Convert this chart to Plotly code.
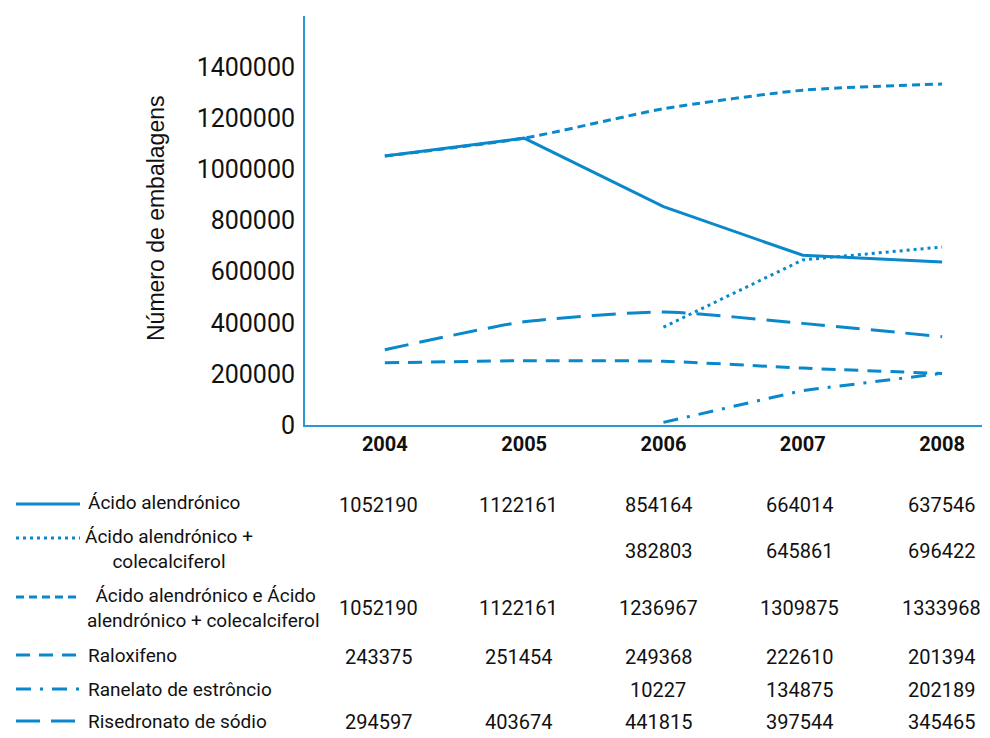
import plotly.graph_objects as go

years = [2004, 2005, 2006, 2007, 2008]
series_names = [
    "Ácido alendrónico",
    "Ácido alendrónico +<br>colecalciferol",
    " Ácido alendrónico e Ácido<br>alendrónico + colecalciferol",
    "Raloxifeno",
    "Ranelato de estrôncio",
    "Risedronato de sódio",
]
acido = [1052190, 1122161, 854164, 664014, 637546]
acido_cole = [None, None, 382803, 645861, 696422]
acido_total = [1052190, 1122161, 1236967, 1309875, 1333968]
raloxifeno = [243375, 251454, 249368, 222610, 201394]
ranelato = [None, None, 10227, 134875, 202189]
risedronato = [294597, 403674, 441815, 397544, 345465]
series_values = [acido, acido_cole, acido_total, raloxifeno, ranelato, risedronato]
y_ticks = [0, 200000, 400000, 600000, 800000, 1000000, 1200000, 1400000]

BLUE = "#0a88cc"
AXIS = "#2a98d4"
FONT = "Roboto"
dashes = ["solid", "3px,4px", "8px,5px", "14px,9px", "15px,9px,3px,9px", "24px,11px"]
shapes_line = ["linear", "linear", "spline", "spline", "linear", "spline"]
col_shift = [-6, -6, -5, -3, -1]

OFF = 8  # page body margin
W, H = 990 - OFF, 738 - OFF
L, R, T, B = 305 - OFF, 0, 16 - OFF, 738 - 425
pw, ph = W - L - R, H - T - B


def px(x, y):
    """page pixel -> paper coords"""
    x -= OFF
    y -= OFF
    return (x - L) / pw, (H - B - y) / ph


fig = go.Figure()
for name, vals, d, sh in zip(series_names, series_values, dashes, shapes_line):
    fig.add_trace(go.Scatter(
        x=years, y=vals, mode="lines", name=name,
        line=dict(color=BLUE, width=3, dash=d, shape=sh, smoothing=0.6),
        connectgaps=False, showlegend=False, hoverinfo="x+y",
    ))

annotations = []
shapes = []
tx, ty = px(141, 219)
annotations.append(dict(x=tx, y=ty, xref="paper", yref="paper", text="Número de embalagens",
                        textangle=-90, showarrow=False,
                        font=dict(family="Liberation Sans, Arial", size=23, color="#111")))

rows = [
    (504, 86, 503, 505, "left"),
    (538, 169, 549, 551, "center"),
    (597, 203, 608, 608, "center"),
    (655, 86, 655, 657, "left"),
    (689, 86, 689, 690, "left"),
    (721, 86, 721, 722, "left"),
]
for i, (sy, lx, ly, vy, al) in enumerate(rows):
    x0, y0 = px(16, sy)
    x1, _ = px(80, sy)
    shapes.append(dict(type="line", xref="paper", yref="paper", x0=x0, x1=x1, y0=y0, y1=y0,
                       line=dict(color=BLUE, width=3, dash=dashes[i])))
    ax, ay = px(lx, ly)
    annotations.append(dict(x=ax, y=ay, xref="paper", yref="paper", text=series_names[i],
                            xanchor="left" if al == "left" else "center", yanchor="middle",
                            align=al, showarrow=False,
                            font=dict(family=FONT, size=19, color="#111")))
    _, vyy = px(0, vy)
    for j, (yr, v) in enumerate(zip(years, series_values[i])):
        if v is None:
            continue
        annotations.append(dict(x=yr, y=vyy, xref="x", yref="paper", text=str(v),
                                showarrow=False, xanchor="center", yanchor="middle",
                                xshift=col_shift[j],
                                font=dict(family=FONT, size=20, color="#111")))

fig.update_layout(
    width=W, height=H,
    margin=dict(l=L, r=R, t=T, b=B),
    paper_bgcolor="white", plot_bgcolor="white",
    font=dict(family=FONT, color="#111"),
    annotations=annotations, shapes=shapes,
    xaxis=dict(range=[2003.427, 2008.344], tickvals=years, ticktext=[f"<b>{y}</b>" for y in years],
               showgrid=False, zeroline=False, showline=True, linecolor=AXIS, linewidth=2,
               tickfont=dict(family=FONT, size=20, color="#111"), ticks=""),
    yaxis=dict(range=[0, 1600000], tickvals=y_ticks, tickformat="d",
               showgrid=False, zeroline=False, showline=True, linecolor=AXIS, linewidth=2,
               tickfont=dict(family=FONT, size=25, color="#111"), ticks="", ticklabelstandoff=3),
)

fig.write_html("out.html")
